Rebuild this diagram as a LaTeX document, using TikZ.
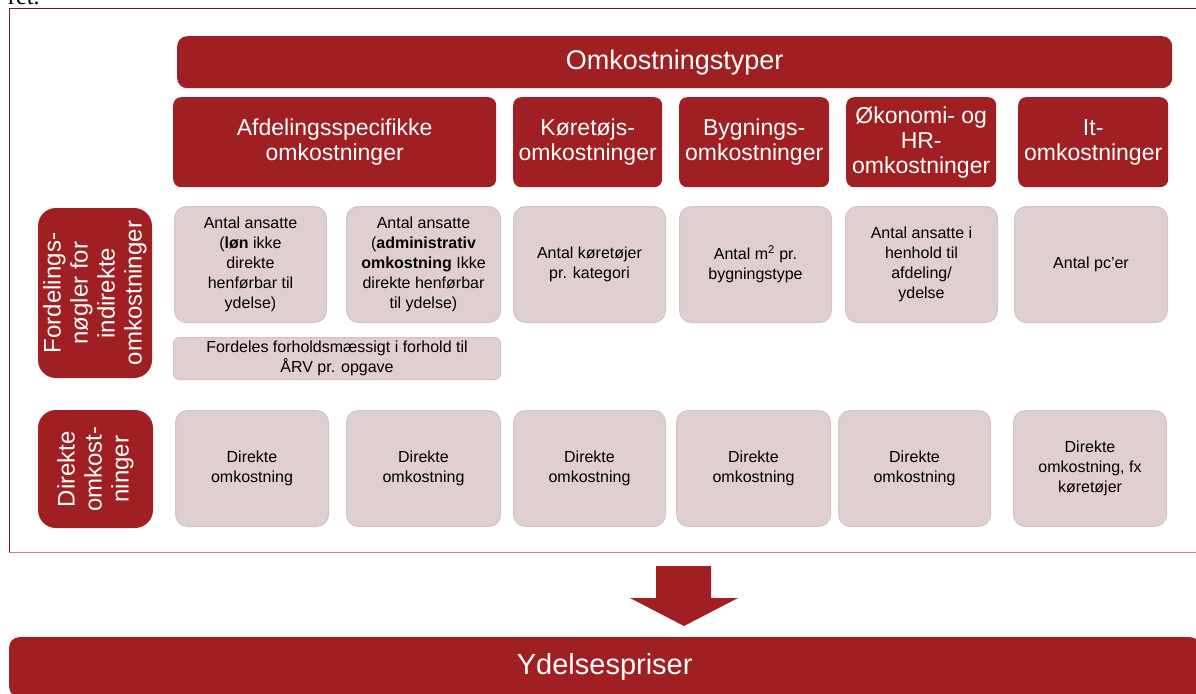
\documentclass[tikz,border=0pt]{standalone}
\usepackage{fontspec}
\setmainfont{Liberation Sans}
\newfontfamily\docserif{Liberation Serif}
\usepackage{tikz}

\definecolor{ared}{RGB}{160,31,34}
\definecolor{apink}{RGB}{224,207,208}
\definecolor{apinkedge}{RGB}{214,194,196}
\definecolor{framered}{RGB}{120,22,24}
\definecolor{framepink}{RGB}{194,132,134}

\begin{document}
\begin{tikzpicture}[x=1pt, y=-1pt,
    darkbox/.style={fill=ared, rounded corners=8pt, text=white, align=center, anchor=north west,
                    inner sep=0pt, font=\fontsize{23}{25}\selectfont},
    lightbox/.style={fill=apink, draw=apinkedge, line width=1pt, rounded corners=12pt, align=center,
                     anchor=north west, inner sep=0pt, font=\fontsize{16}{20}\selectfont},
    sidebox/.style={fill=ared, rounded corners=18pt, text=white, align=center, rotate=90,
                    inner sep=0pt, font=\fontsize{24}{27}\selectfont}]
    \useasboundingbox (0,0) rectangle (1196,693);

    % Page text and frame
    \node[anchor=base west, inner sep=0pt, font=\docserif\fontsize{24}{24}\selectfont] (ret) at (8,5) {ret.};
    \draw[framered, line width=1pt] (1196,9) -- (9,9) -- (9,552);
    \draw[framepink, line width=1pt] (9,552) -- (1196,552);

    % Cost types
    \node[darkbox, rounded corners=10pt, minimum width=995pt, minimum height=52pt,
          font=\fontsize{27}{30}\selectfont] (typer) at (177,36) {Omkostningstyper};
    \node[darkbox, minimum width=323pt, minimum height=90pt] (afd) at (173,97) {Afdelingsspecifikke\\omkostninger};
    \node[darkbox, minimum width=149pt, minimum height=90pt] (koer) at (513,97) {Køretøjs-\\omkostninger};
    \node[darkbox, minimum width=150pt, minimum height=90pt] (bygn) at (679,97) {Bygnings-\\omkostninger};
    \node[darkbox, minimum width=150pt, minimum height=90pt] (oek) at (846,97) {Økonomi- og\\HR-\\omkostninger};
    \node[darkbox, minimum width=150pt, minimum height=90pt] (it) at (1018,97) {It-\\omkostninger};

    % Keys for indirect costs
    \node[sidebox, minimum width=170pt, minimum height=114pt] (noegler) at (95,293)
        {Fordelings-\\nøgler for\\indirekte\\omkostninger};
    \node[lightbox, minimum width=152pt, minimum height=116pt] (loen) at (174,206)
        {Antal ansatte\\(\textbf{løn} ikke\\direkte\\henførbar til\\ydelse)};
    \node[lightbox, minimum width=154pt, minimum height=116pt] (admin) at (346,206)
        {Antal ansatte\\(\textbf{administrativ}\\\textbf{omkostning} Ikke\\direkte henførbar\\til ydelse)};
    \node[lightbox, minimum width=152pt, minimum height=116pt] (koertal) at (513,206)
        {Antal køretøjer\\pr. kategori};
    \node[lightbox, minimum width=152pt, minimum height=116pt] (kvm) at (679,206)
        {Antal m\textsuperscript{2} pr.\\bygningstype};
    \node[lightbox, minimum width=152pt, minimum height=116pt] (ansatte) at (845,206)
        {Antal ansatte i\\henhold til\\afdeling/\\ydelse};
    \node[lightbox, minimum width=153pt, minimum height=116pt] (pc) at (1014,206) {Antal pc’er};
    \node[lightbox, rounded corners=6pt, minimum width=327pt, minimum height=42pt] (arv) at (173,337)
        {Fordeles forholdsmæssigt i forhold til\\ÅRV pr. opgave};

    % Direct costs
    \node[sidebox, minimum width=118pt, minimum height=115pt] (direkte) at (95.5,469)
        {Direkte\\omkost-\\ninger};
    \foreach \x/\w/\n in {175/153pt/dir1, 346/154pt/dir2, 513/152pt/dir3, 676/154pt/dir4, 838/152pt/dir5}
        \node[lightbox, minimum width=\w, minimum height=116pt] (\n) at (\x,410) {Direkte\\omkostning};
    \node[lightbox, minimum width=153pt, minimum height=116pt] (dir6) at (1013,410)
        {Direkte\\omkostning, fx\\køretøjer};

    % Result
    \fill[ared] (656,566) -- (711,566) -- (711,598) -- (738,598) -- (684,626) -- (630,598) -- (656,598) -- cycle;
    \node[darkbox, rounded corners=10pt, minimum width=1191pt, minimum height=60pt,
          font=\fontsize{29}{32}\selectfont] (priser) at (9,637) {Ydelsespriser};
\end{tikzpicture}
\end{document}
